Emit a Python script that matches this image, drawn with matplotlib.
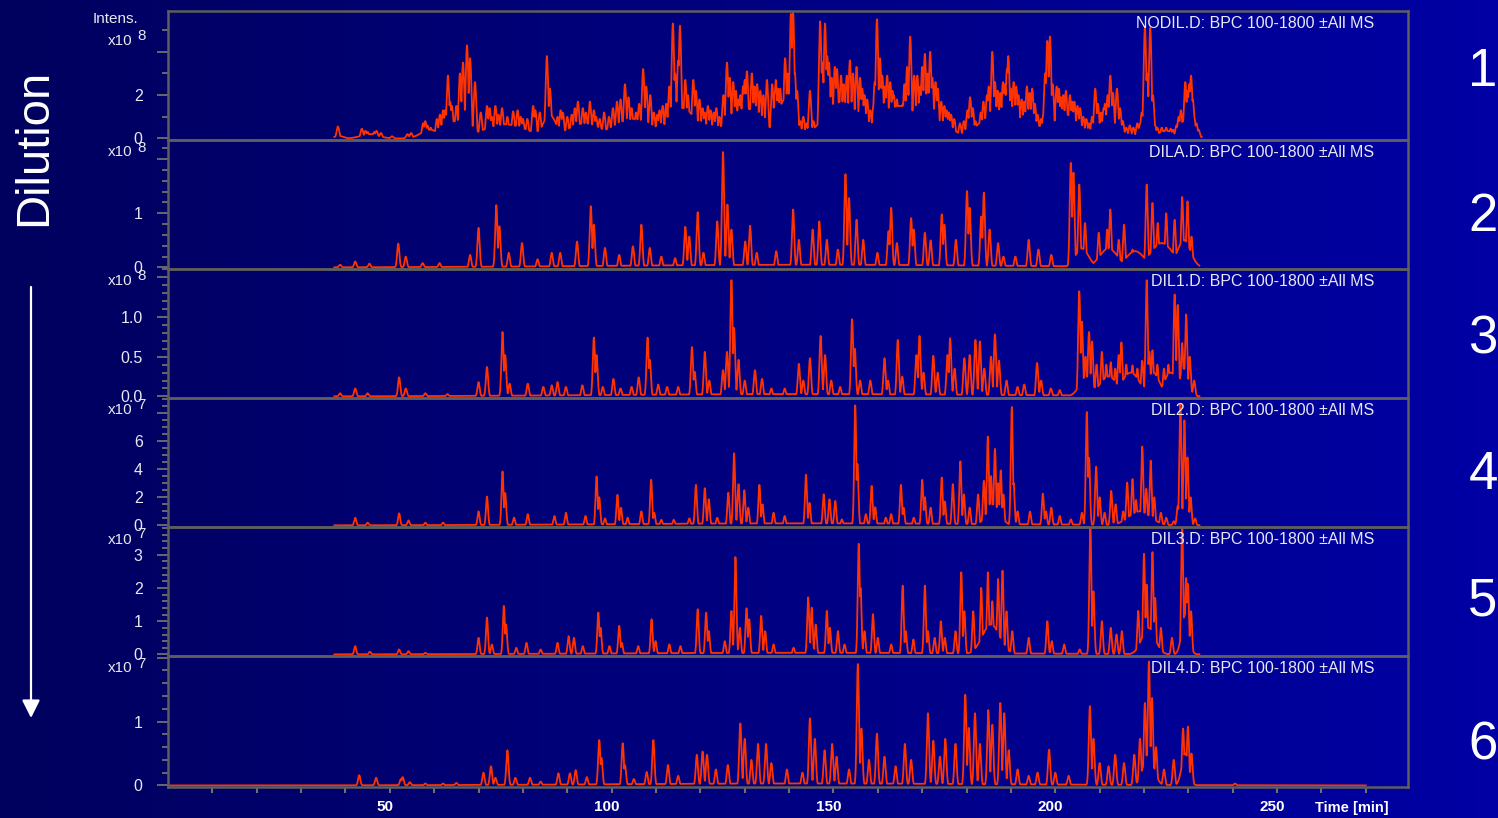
import numpy as np
import matplotlib.pyplot as plt
from matplotlib.colors import LinearSegmentedColormap
from matplotlib.ticker import MultipleLocator
from matplotlib.transforms import ScaledTranslation

plt.rcParams['font.family'] = ['Liberation Sans', 'DejaVu Sans']

# Base peak chromatograms (BPC 100-1800, all MS) of the dilution series.
# Each run: peak retention times (min) and heights (in units of the panel's x10^n),
# plus broad background humps (centre, height, width) under the crowded regions.

titles = ['NODIL.D', 'DILA.D', 'DIL1.D', 'DIL2.D', 'DIL3.D', 'DIL4.D']
exponents = [8, 8, 8, 7, 7, 7]

rt_nodil = [38.3, 43.7, 44.5, 45.0, 46.5, 47.0, 48.0, 50.5, 54.0, 54.8, 57.5, 58.0, 58.5, 59.2,
            60.6, 61.3, 62.0, 62.5, 63.1, 63.6, 64.0, 65.0, 65.8, 66.5, 67.4, 68.1, 69.2, 70.5,
            71.9, 72.5, 73.0, 73.8, 74.5, 75.3, 76.5, 77.8, 78.8, 79.5, 80.0, 81.0, 82.3, 82.8,
            83.8, 85.4, 86.1, 87.8, 88.5, 89.0, 90.0, 91.0, 91.7, 92.4, 93.5, 94.2, 95.1, 96.0,
            96.5, 97.3, 98.3, 99.4, 100.3, 101.2, 102.0, 103.0, 103.8, 104.5, 105.5, 106.2, 107.1,
            107.8, 108.7, 109.5, 110.3, 110.8, 111.5, 112.3, 113.0, 113.8, 114.3, 115.0, 115.4,
            116.6, 117.2, 118.4, 119.0, 119.8, 120.5, 121.0, 121.7, 122.3, 123.0, 123.6, 124.3,
            125.2, 126.0, 126.6, 127.4, 128.0, 128.6, 129.0, 129.6, 130.0, 130.5, 131.6, 132.2,
            132.8, 133.5, 134.2, 135.0, 136.2, 136.8, 137.0, 137.5, 138.0, 139.1, 139.7, 140.4,
            140.9, 141.3, 141.8, 142.5, 143.2, 143.9, 144.7, 145.5, 146.3, 147.0, 147.5, 148.1,
            148.6, 149.0, 149.6, 150.3, 150.8, 151.7, 152.3, 153.0, 153.7, 154.4, 155.2, 156.0,
            156.5, 157.0, 157.6, 158.3, 159.0, 159.3, 159.8, 160.5, 161.0, 161.6, 162.1, 162.8,
            163.3, 163.6, 164.3, 165.0, 165.6, 166.0, 166.6, 167.3, 168.2, 168.9, 169.5, 170.0,
            170.6, 171.2, 171.8, 172.3, 173.0, 173.5, 174.3, 175.0, 175.5, 176.0, 176.5, 177.2,
            178.5, 179.4, 180.2, 180.8, 181.4, 182.0, 183.2, 183.8, 184.6, 185.0, 185.8, 186.4,
            187.0, 187.6, 188.2, 188.6, 189.1, 189.4, 190.0, 190.6, 191.2, 191.7, 192.4, 193.0,
            193.6, 194.2, 194.8, 195.4, 196.0, 196.8, 197.3, 197.7, 198.2, 198.8, 199.4, 200.3,
            200.8, 201.3, 201.8, 202.4, 203.3, 203.8, 204.3, 205.0, 205.6, 206.3, 207.0, 207.6,
            208.3, 209.0, 209.6, 210.3, 210.9, 211.2, 211.8, 212.4, 213.0, 213.9, 214.6, 215.2,
            216.0, 216.8, 217.6, 218.5, 219.5, 220.2, 220.7, 221.4, 222.0, 222.5, 223.0, 224.0,
            225.0, 226.0, 226.5, 227.3, 227.8, 228.3, 229.3, 229.8, 230.2, 230.6, 231.0, 231.3,
            231.8, 232.3]
ht_nodil = [0.55, 0.45, 0.35, 0.3, 0.3, 0.35, 0.25, 0.1, 0.2, 0.25, 0.7, 0.8, 0.6, 0.5,
            0.9, 1.1, 1.3, 1.3, 2.9, 1.7, 1.5, 1.5, 3.0, 3.5, 4.3, 3.7, 2.6, 1.2,
            1.5, 1.4, 1.0, 1.5, 1.1, 1.4, 1.0, 1.25, 1.3, 1.0, 0.9, 0.9, 1.5, 1.3,
            1.2, 3.8, 2.3, 1.0, 1.3, 1.2, 1.0, 1.1, 1.4, 1.7, 1.4, 1.2, 1.7, 1.3,
            1.0, 0.9, 1.2, 1.0, 1.4, 1.7, 1.8, 2.5, 1.9, 1.4, 1.2, 1.6, 3.2,
            2.4, 2.0, 1.2, 1.1, 1.3, 1.5, 1.6, 2.4, 5.3, 3.0, 3.6, 5.2,
            2.7, 2.0, 2.7, 2.2, 1.8, 1.4, 1.2, 1.5, 1.3, 1.2, 1.4, 1.0,
            2.0, 3.5, 2.8, 2.6, 2.2, 1.8, 2.0, 2.4, 2.7, 3.1, 3.0, 2.4,
            2.5, 2.2, 2.0, 2.7, 2.5, 2.1, 2.7, 2.3, 2.3, 3.7, 3.0, 5.75,
            5.8, 3.0, 2.2, 0.8, 1.0, 0.7, 2.2, 0.8, 0.4, 5.4, 3.5, 5.3,
            3.8, 3.5, 2.8, 3.3, 3.2, 2.9, 2.5, 2.9, 3.6, 3.0, 3.3, 2.8,
            2.3, 2.0, 1.8, 1.3, 1.5, 2.6, 5.5, 3.7, 2.9, 2.4, 2.9, 2.6,
            2.2, 2.0, 1.8, 1.4, 1.6, 2.5, 3.3, 4.7, 2.9, 2.9, 2.4, 3.3,
            3.9, 3.0, 4.0, 2.8, 2.6, 2.3, 1.7, 1.5, 1.3, 1.2, 1.1, 0.9,
            0.7, 0.8, 1.3, 1.9, 1.4, 0.8, 1.2, 1.7, 2.0, 2.4, 4.0, 2.6,
            2.2, 2.1, 2.6, 2.5, 3.2, 3.8, 2.3, 2.6, 2.4, 2.0, 1.8, 1.7,
            2.4, 2.1, 2.3, 1.6, 1.1, 0.9, 1.1, 3.0, 4.5, 4.7, 2.5, 2.4,
            2.3, 1.9, 2.0, 2.2, 2.0, 1.7, 1.7, 1.5, 1.4, 1.0, 0.9, 0.7,
            1.0, 2.3, 1.6, 1.2, 1.4, 1.6, 2.0, 2.9, 2.1, 2.3, 1.4, 0.8,
            0.5, 0.6, 0.5, 0.7, 1.2, 5.1, 3.0, 5.1, 2.0, 0.6, 0.5, 0.5,
            0.5, 0.45, 0.4, 0.6, 1.0, 1.3, 2.6, 2.2, 2.5, 2.9, 1.8, 1.0,
            0.7, 0.4]
bg_rt_nodil = [38.5, 45.5, 59.0, 65.0, 76.0, 86.0, 94.0, 105.0, 116.0, 122.0, 130.0, 139.0, 143.5,
               152.0, 165.0, 176.0, 187.0, 196.0, 202.0, 211.0, 220.0, 225.0, 229.5]
bg_ht_nodil = [0.12, 0.2, 0.4, 0.8, 0.65, 1.1, 0.7, 0.9, 1.4, 0.5, 1.4, 1.8, 0.4,
               1.7, 1.5, 0.45, 1.2, 0.6, 1.2, 0.6, 1.0, 0.35, 0.9]
bg_w_nodil = [1.0, 2.0, 2.0, 3.0, 5.0, 1.5, 4.0, 5.0, 3.0, 1.0, 4.0, 1.5, 1.0,
              4.0, 5.0, 2.0, 4.0, 1.5, 2.0, 4.0, 1.0, 2.0, 1.5]

rt_dila = [38.8, 42.2, 45.4, 51.9, 53.6, 57.4, 61.2, 68.1, 70.0, 74.0, 74.7, 76.8, 79.8, 83.3, 86.5,
           88.4, 92.2, 95.3, 96.0, 98.5, 101.7, 104.8, 106.7, 108.6, 111.2, 114.3, 116.6, 117.5,
           119.4, 120.7, 123.8, 125.1, 126.1, 127.0, 130.1, 131.2, 132.7, 137.1, 140.9, 142.2,
           145.3, 146.8, 148.5, 151.0, 152.7, 153.5, 155.2, 156.7, 159.9, 162.4, 163.0, 164.3,
           167.5, 168.1, 170.6, 171.9, 174.4, 175.0, 177.6, 180.1, 180.7, 183.3, 183.9, 185.2,
           187.1, 188.3, 191.0, 194.0, 196.2, 199.1, 203.5, 204.1, 205.4, 206.7, 209.8, 211.7,
           212.4, 214.3, 215.5, 217.4, 220.6, 221.9, 223.1, 225.0, 226.9, 228.6, 229.8, 230.7]
ht_dila = [0.05, 0.11, 0.07, 0.44, 0.2, 0.08, 0.08, 0.23, 0.73, 1.15, 0.76, 0.27, 0.45, 0.15, 0.27,
           0.27, 0.48, 1.13, 0.79, 0.36, 0.23, 0.39, 0.79, 0.36, 0.2, 0.17, 0.75, 0.57,
           1.02, 0.27, 0.85, 2.13, 1.16, 0.7, 0.48, 0.77, 0.27, 0.3, 1.07, 0.51,
           0.7, 0.85, 0.51, 0.33, 1.72, 1.28, 0.88, 0.51, 0.27, 0.67, 1.1, 0.45,
           0.91, 0.7, 0.64, 0.5, 0.98, 0.79, 0.51, 1.41, 1.1, 0.94, 1.38, 0.7,
           0.45, 0.2, 0.2, 0.51, 0.33, 0.23, 1.93, 1.75, 1.53, 0.82, 0.64, 0.7,
           1.07, 0.51, 0.79, 0.33, 1.53, 1.19, 0.82, 1.0, 0.88, 1.3, 1.22, 0.57]
bg_rt_dila = [145.0, 206.0, 212.0, 218.0, 224.0, 229.0]
bg_ht_dila = [0.05, 0.35, 0.35, 0.3, 0.45, 0.5]
bg_w_dila = [45.0, 1.5, 2.0, 2.0, 2.5, 1.5]

rt_dil1 = [38.8, 42.2, 45.0, 52.1, 53.6, 58.0, 63.0, 70.0, 71.9, 75.4, 76.0, 77.0, 81.1, 84.6, 86.5,
           87.8, 89.7, 93.4, 96.0, 96.6, 98.0, 100.4, 102.0, 104.5, 106.1, 108.1, 108.6, 110.5,
           112.5, 115.0, 118.1, 118.7, 121.0, 122.0, 125.1, 126.0, 127.0, 127.6, 128.6, 130.0,
           132.3, 133.9, 136.0, 139.0, 142.2, 143.2, 144.7, 147.1, 148.1, 149.5, 151.5, 154.2,
           154.8, 156.0, 158.3, 161.5, 162.3, 164.5, 165.5, 168.7, 169.4, 170.3, 172.5, 173.5,
           175.7, 176.3, 177.3, 179.5, 180.7, 182.0, 183.0, 184.0, 185.5, 186.4, 187.3, 189.0,
           191.5, 193.0, 195.9, 196.8, 199.0, 201.0, 205.4, 206.0, 206.8, 207.6, 208.3, 209.3,
           210.5, 211.5, 212.5, 213.5, 214.3, 214.9, 216.0, 217.4, 218.5, 219.6, 220.6, 221.2,
           221.9, 223.0, 224.5, 225.5, 226.9, 227.6, 228.6, 229.5, 230.3, 231.3]
ht_dil1 = [0.04, 0.1, 0.04, 0.24, 0.1, 0.04, 0.03, 0.18, 0.37, 0.81, 0.52, 0.16, 0.16, 0.12, 0.14,
           0.18, 0.12, 0.14, 0.74, 0.52, 0.12, 0.22, 0.1, 0.12, 0.24, 0.74, 0.46, 0.15,
           0.12, 0.12, 0.62, 0.31, 0.56, 0.2, 0.33, 0.56, 1.46, 0.86, 0.46, 0.2,
           0.33, 0.22, 0.1, 0.1, 0.41, 0.2, 0.48, 0.76, 0.52, 0.2, 0.12, 0.97,
           0.6, 0.2, 0.2, 0.48, 0.2, 0.71, 0.25, 0.52, 0.76, 0.3, 0.51, 0.3,
           0.52, 0.73, 0.35, 0.48, 0.52, 0.71, 0.69, 0.35, 0.5, 0.78, 0.45, 0.2,
           0.12, 0.15, 0.42, 0.2, 0.1, 0.08, 1.32, 0.94, 0.5, 0.81, 0.69, 0.4,
           0.56, 0.4, 0.43, 0.35, 0.52, 0.68, 0.4, 0.39, 0.35, 0.45, 1.46, 0.56,
           0.58, 0.4, 0.35, 0.4, 1.28, 1.15, 0.67, 1.03, 0.5, 0.2]
bg_rt_dil1 = [145.0, 207.0, 212.0, 217.0, 222.0, 226.0, 229.0]
bg_ht_dil1 = [0.03, 0.25, 0.25, 0.3, 0.3, 0.3, 0.35]
bg_w_dil1 = [45.0, 1.5, 2.0, 2.0, 1.5, 1.5, 1.0]

rt_dil2 = [42.2, 45.0, 52.1, 54.2, 58.0, 62.0, 70.0, 71.9, 75.4, 76.0, 78.0, 81.1, 87.1, 89.7, 94.1,
           96.6, 97.2, 98.5, 101.3, 102.1, 103.6, 106.7, 108.9, 109.6, 111.2, 114.0, 117.5, 119.0,
           121.0, 121.9, 123.8, 126.3, 127.6, 128.6, 129.9, 130.8, 133.3, 134.0, 136.5, 139.0,
           143.8, 144.6, 147.8, 149.1, 150.4, 151.9, 154.9, 155.4, 157.3, 158.6, 159.4, 161.8,
           163.0, 165.2, 165.8, 168.1, 170.0, 170.6, 171.9, 174.4, 175.1, 176.9, 178.6, 179.4,
           180.7, 182.6, 183.9, 184.8, 185.5, 186.4, 187.1, 187.7, 188.3, 190.2, 190.6, 191.5,
           194.3, 197.2, 197.9, 199.1, 201.0, 203.5, 206.0, 207.1, 207.6, 209.2, 210.0, 211.1,
           212.6, 213.6, 215.3, 216.2, 217.4, 218.2, 219.6, 220.5, 221.5, 222.3, 223.8, 225.0,
           226.7, 227.6, 228.2, 229.1, 229.8, 230.5, 231.5]
ht_dil2 = [0.55, 0.2, 0.86, 0.36, 0.2, 0.2, 1.0, 2.05, 3.83, 2.3, 0.55, 0.8, 0.67, 0.9, 0.67,
           3.48, 2.0, 0.5, 2.17, 1.26, 0.55, 1.0, 3.24, 0.9, 0.4, 0.4, 0.5, 2.88,
           2.64, 1.86, 0.55, 2.33, 5.12, 2.93, 2.5, 1.26, 2.88, 1.5, 0.9, 0.67,
           3.6, 1.6, 2.21, 1.86, 1.74, 0.43, 8.52, 4.36, 0.8, 2.81, 1.3, 0.55,
           0.8, 2.88, 1.26, 0.55, 3.24, 2.0, 1.26, 3.4, 1.7, 2.93, 4.55, 2.2,
           1.26, 2.2, 3.17, 6.31, 3.5, 5.43, 3.0, 3.9, 2.2, 8.4, 3.0, 1.0,
           0.98, 2.26, 1.0, 1.26, 0.67, 0.43, 0.9, 8.05, 4.8, 4.17, 2.0, 0.9,
           2.45, 1.5, 1.0, 3.05, 3.29, 1.8, 5.6, 2.6, 4.6, 2.0, 0.9, 0.55,
           0.3, 1.38, 8.64, 7.45, 4.83, 2.0, 0.5]
bg_rt_dil2 = [145.0, 186.0, 219.0]
bg_ht_dil2 = [0.15, 1.5, 1.0]
bg_w_dil2 = [45.0, 1.5, 2.5]

rt_dil3 = [42.2, 45.5, 52.1, 54.2, 58.0, 70.0, 71.9, 73.0, 75.7, 76.2, 78.5, 80.8, 84.0, 87.8, 90.3,
           91.5, 93.5, 97.0, 97.5, 99.5, 101.7, 102.3, 106.0, 109.0, 109.9, 113.0, 115.5, 119.4,
           121.3, 121.9, 125.5, 127.0, 127.9, 128.9, 130.4, 131.0, 133.7, 134.6, 136.5, 141.0,
           144.3, 145.1, 146.0, 148.5, 149.2, 151.0, 152.5, 155.7, 156.1, 157.0, 158.9, 160.0,
           163.0, 165.6, 166.3, 168.0, 170.6, 171.3, 172.8, 174.2, 175.1, 177.5, 178.8, 179.5,
           181.5, 183.3, 184.8, 185.8, 187.1, 188.1, 189.0, 190.3, 194.0, 198.2, 199.2, 202.0,
           205.5, 207.9, 208.6, 210.5, 212.5, 213.8, 215.0, 218.7, 220.0, 220.6, 221.9, 222.5,
           223.8, 226.3, 228.6, 229.5, 229.9, 230.6]
ht_dil3 = [0.25, 0.08, 0.15, 0.1, 0.05, 0.5, 1.11, 0.3, 1.46, 0.9, 0.2, 0.35, 0.15, 0.35, 0.55,
           0.5, 0.25, 1.26, 0.8, 0.25, 0.86, 0.35, 0.25, 1.06, 0.4, 0.3, 0.25, 1.36,
           1.26, 0.7, 0.4, 1.31, 2.93, 0.8, 1.39, 1.06, 1.16, 0.7, 0.3, 0.2,
           1.72, 1.41, 0.9, 1.31, 0.8, 0.7, 0.3, 3.33, 2.0, 0.7, 1.21, 0.5,
           0.3, 2.07, 0.7, 0.45, 2.07, 0.7, 0.5, 1.0, 0.5, 0.7, 2.47, 1.3,
           1.3, 2.0, 2.47, 1.6, 2.27, 2.52, 1.3, 0.7, 0.5, 1.0, 0.4, 0.3,
           0.15, 3.9, 1.9, 1.0, 0.8, 0.6, 0.7, 1.31, 3.03, 2.1, 3.08, 1.7,
           0.8, 0.5, 3.9, 2.3, 2.12, 1.3]
bg_rt_dil3 = [145.0, 185.5, 221.0, 229.3]
bg_ht_dil3 = [0.05, 0.9, 0.8, 1.2]
bg_w_dil3 = [45.0, 2.0, 1.5, 0.8]

rt_dil4 = [43.1, 46.9, 52.5, 52.9, 54.5, 58.0, 62.0, 65.0, 71.1, 72.8, 73.8, 76.5, 78.3, 81.6, 84.0,
           88.0, 90.6, 91.9, 94.4, 97.2, 97.7, 102.5, 103.0, 105.0, 107.9, 109.4, 112.7, 115.0,
           119.2, 120.5, 121.5, 123.5, 126.2, 129.0, 130.0, 131.5, 133.0, 134.8, 136.0, 139.5,
           143.0, 144.7, 145.8, 148.0, 149.7, 150.7, 153.5, 155.5, 156.3, 158.0, 159.8, 161.5,
           164.0, 166.1, 167.5, 171.3, 172.5, 174.0, 175.2, 177.5, 179.7, 180.5, 181.9, 183.0,
           184.9, 185.8, 187.6, 188.5, 189.5, 191.5, 194.0, 196.0, 198.6, 200.0, 203.0, 207.8,
           208.6, 210.0, 212.0, 213.5, 215.5, 217.8, 219.1, 220.2, 221.1, 221.8, 222.7, 224.5,
           226.7, 228.8, 229.9, 230.7, 240.5]
ht_dil4 = [0.16, 0.12, 0.1, 0.13, 0.05, 0.03, 0.03, 0.04, 0.2, 0.3, 0.12, 0.55, 0.12, 0.12, 0.06,
           0.19, 0.19, 0.24, 0.13, 0.71, 0.43, 0.66, 0.32, 0.1, 0.21, 0.71, 0.32, 0.15,
           0.48, 0.53, 0.48, 0.25, 0.32, 0.97, 0.73, 0.4, 0.65, 0.65, 0.35, 0.25,
           0.2, 1.05, 0.73, 0.55, 0.65, 0.45, 0.25, 1.9, 0.89, 0.4, 0.81, 0.45,
           0.3, 0.65, 0.4, 1.13, 0.7, 0.45, 0.73, 0.65, 1.42, 0.9, 1.13, 0.65,
           1.18, 0.95, 1.29, 1.13, 0.55, 0.25, 0.15, 0.2, 0.56, 0.2, 0.15, 1.24,
           0.73, 0.35, 0.3, 0.48, 0.35, 0.48, 0.73, 1.29, 1.94, 1.37, 0.6, 0.25,
           0.4, 0.89, 0.92, 0.5, 0.03]
bg_rt_dil4 = [145.0, 221.0, 229.3]
bg_ht_dil4 = [0.03, 0.5, 0.5]
bg_w_dil4 = [45.0, 1.2, 0.8]

# acquisition window of each trace (min)
t_start = [37.5, 37.5, 37.5, 37.5, 37.5, 0.0]
t_end = [233.0, 232.5, 232.5, 232.5, 232.5, 270.0]
# peak width (sigma, min) used to draw each run
peak_sigma = [0.3, 0.25, 0.25, 0.23, 0.23, 0.25]

# y axis per panel: top of scale, major ticks, labelled majors, minor step
y_top = [5.95, 2.38, 1.62, 9.15, 3.88, 2.05]
y_major = [[0, 2, 4], [0, 1, 2], [0, 0.5, 1.0, 1.5], [0, 2, 4, 6, 8], [0, 1, 2, 3], [0, 1, 2]]
y_labels = [['0', '2', ''], ['0', '1', ''], ['0.0', '0.5', '1.0', ''], ['0', '2', '4', '6', ''],
            ['0', '1', '2', '3'], ['0', '1', '']]
y_minor = [1, 0.2, 0.1, 0.5, 0.2, 0.2]

peaks = [(rt_nodil, ht_nodil), (rt_dila, ht_dila), (rt_dil1, ht_dil1),
         (rt_dil2, ht_dil2), (rt_dil3, ht_dil3), (rt_dil4, ht_dil4)]
humps = [(bg_rt_nodil, bg_ht_nodil, bg_w_nodil), (bg_rt_dila, bg_ht_dila, bg_w_dila),
         (bg_rt_dil1, bg_ht_dil1, bg_w_dil1), (bg_rt_dil2, bg_ht_dil2, bg_w_dil2),
         (bg_rt_dil3, bg_ht_dil3, bg_w_dil3), (bg_rt_dil4, bg_ht_dil4, bg_w_dil4)]


def chromatogram(t, rts, hts, bg, sigma):
    y = np.zeros_like(t)
    for c, h in zip(rts, hts):
        y = np.maximum(y, h * np.exp(-0.5 * ((t - c) / sigma) ** 2))
    for c, h, w in zip(*bg):
        y = np.maximum(y, h * np.exp(-0.5 * ((t - c) / w) ** 2))
    return y


W, H = 1498, 818
fig = plt.figure(figsize=(W / 100, H / 100), dpi=100)

# dark blue slide background, brighter towards the right
bg_ax = fig.add_axes([0, 0, 1, 1], zorder=-10)
cmap = LinearSegmentedColormap.from_list('slide', ['#00005e', '#0000a4'])
bg_ax.imshow(np.linspace(0, 1, 256).reshape(1, -1), aspect='auto', cmap=cmap,
             extent=[0, 1, 0, 1])
bg_ax.set_xlim(0, 1)
bg_ax.set_ylim(0, 1)
bg_ax.set_axis_off()

frame = '#5e5e5e'
txt = '#e8e8f0'
edges = [11, 140, 269, 398, 527, 656, 787]
left, right = 168 / W, 1408 / W

for i in range(6):
    top_px, bot_px = edges[i], edges[i + 1]
    ax = fig.add_axes([left, 1 - bot_px / H, right - left, (bot_px - top_px) / H])
    ax.patch.set_alpha(0)

    t = np.arange(t_start[i], t_end[i], 0.02)
    y = chromatogram(t, peaks[i][0], peaks[i][1], humps[i], peak_sigma[i])
    ax.plot(t, y, color='#ff3300', lw=1.3)

    bottom = -0.012 * y_top[i]
    ax.set_xlim(0, 279.5)
    ax.set_ylim(bottom, y_top[i] + bottom)

    for s in ax.spines.values():
        s.set_color(frame)
        s.set_linewidth(1.8)

    ax.set_yticks(y_major[i])
    ax.set_yticklabels(y_labels[i])
    ax.yaxis.set_minor_locator(MultipleLocator(y_minor[i]))
    ax.tick_params(axis='y', which='major', direction='out', length=7.7, width=1.3,
                   color='#707070', labelcolor=txt, labelsize=11.5, pad=10.5)
    ax.tick_params(axis='y', which='minor', direction='out', length=4.5, width=1.3,
                   color='#707070')

    if i < 5:
        ax.tick_params(axis='x', which='both', bottom=False, labelbottom=False)
    else:
        xt = list(range(10, 280, 10))
        ax.set_xticks(xt)
        ax.set_xticklabels([str(v) if v % 50 == 0 else '' for v in xt])
        ax.tick_params(axis='x', direction='out', length=4, width=1.5, color='#707070',
                       labelcolor='white', labelsize=11, pad=5.5)
        shift = ScaledTranslation(-5 / 100, 0, fig.dpi_scale_trans)
        for lab in ax.get_xticklabels():
            lab.set_fontweight('bold')
            lab.set_transform(lab.get_transform() + shift)

    ax.text(0.9726, 1 - 17 / (bot_px - top_px), titles[i] + ': BPC 100-1800 \u00b1All MS',
            transform=ax.transAxes, ha='right', va='baseline', fontsize=11.5, color=txt)

    # intensity scale factor
    base = 45 if i == 0 else top_px + 16.5
    fig.text(132 / W, 1 - base / H, 'x10', ha='right', va='baseline', fontsize=11, color=txt)
    fig.text(137 / W, 1 - (base - 5) / H, str(exponents[i]), ha='left', va='baseline',
             fontsize=11, color=txt)

fig.text(93 / W, 1 - 23 / H, 'Intens.', ha='left', va='baseline', fontsize=11, color=txt)
fig.text(1352 / W, 1 - 812 / H, 'Time [min]', ha='center', va='baseline', fontsize=10.5,
         color='white', fontweight='bold')

# run numbers on the right
for k, yb in enumerate([86, 231, 353, 489, 616, 760]):
    fig.text(1483 / W, 1 - yb / H, str(k + 1), ha='center', va='baseline', fontsize=38,
             color='white')

# dilution direction
bg_ax.text(34 / W, 1 - 147 / H, 'Dilution', rotation=90, ha='center', va='center',
           fontsize=34, color='white')
bg_ax.annotate('', xy=(31 / W, 1 - 718 / H), xytext=(31 / W, 1 - 287 / H),
               arrowprops=dict(arrowstyle='-|>', color='white', lw=1.6, mutation_scale=27,
                               shrinkA=0, shrinkB=0))

fig.savefig('out.png', dpi=100)
